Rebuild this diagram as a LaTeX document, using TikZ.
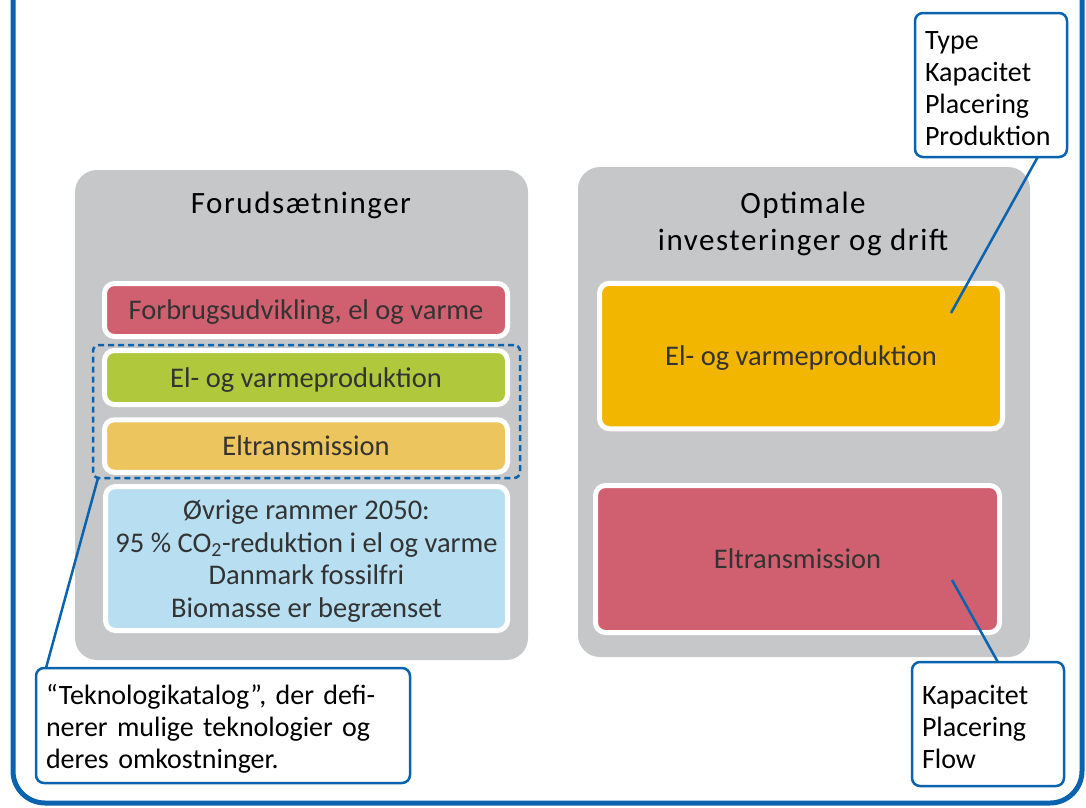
\documentclass[tikz,border=0pt]{standalone}
\usepackage{fontspec}
\setmainfont{Carlito}
\usetikzlibrary{positioning}
\definecolor{frameblue}{HTML}{0A63AE}
\definecolor{panelgrey}{HTML}{C6C7C9}
\definecolor{boxred}{HTML}{D06070}
\definecolor{boxgreen}{HTML}{B0C93C}
\definecolor{boxyellow}{HTML}{EDC55E}
\definecolor{boxblue}{HTML}{B7DFF1}
\definecolor{boxorange}{HTML}{F2B600}
\definecolor{boxtext}{HTML}{333333}
\newcommand{\boxfont}{\fontsize{28.5}{32.5}\selectfont}
\newcommand{\callfont}{\fontsize{28}{32}\selectfont}
\newcommand{\headfont}{\addfontfeature{LetterSpace=5}\fontsize{31}{37}\selectfont}

\begin{document}
\begin{tikzpicture}[x=1pt,y=-1pt,
  panel/.style={fill=panelgrey, rounded corners=22pt, inner sep=0pt, outer sep=0pt},
  box/.style={draw=white, line width=5pt, rounded corners=10pt, inner sep=0pt,
    outer sep=0pt, text=boxtext, font=\boxfont, align=center, text depth=0pt},
  dashbox/.style={draw=frameblue, line width=2.5pt, dash pattern=on 6pt off 4pt,
    rounded corners=6pt, inner sep=0pt, outer sep=0pt},
  callout/.style={draw=frameblue, line width=2.5pt, fill=white, rounded corners=8pt,
    inner ysep=0pt, inner xsep=10pt, outer sep=0pt, align=left, font=\callfont,
    execute at begin node={\rule{0pt}{26pt}}},
  callline/.style={draw=frameblue, line width=2.5pt},
  head/.style={font=\headfont, align=center, inner sep=0pt}]
\clip (0,0) rectangle (1086,807);

% outer frame, cut off at the top
\draw[frameblue, line width=5pt, rounded corners=32pt] (13,-60) rectangle (1082,803);

% the two grey panels
\node[panel, minimum width=453pt, minimum height=490pt] (inputs) at (301.5,415) {};
\node[panel, minimum width=452pt, minimum height=490pt] (results) at (804,412) {};

\node[head] (inputshead) at (301,205) {Forudsætninger};
\node[head] (resultshead) at (803,224) {Optimale\\investeringer og drift};

% assumptions
\node[box, fill=boxred, minimum width=403pt, minimum height=53pt] (demand) at (306,310)
  {Forbrugsudvikling, el og varme};
\node[box, fill=boxgreen, minimum width=403pt, minimum height=54pt] (prodin) at (306,377.5)
  {El- og varmeproduktion};
\node[box, fill=boxyellow, minimum width=403pt, minimum height=52.5pt] (transin) at (306,446)
  {Eltransmission};
\node[box, fill=boxblue, minimum width=402pt, minimum height=144pt] (frames) at (306.5,558.5)
  {Øvrige rammer 2050:\\95 \% CO\textsubscript{2}-reduktion i el og varme\\Danmark fossilfri\\Biomasse er begrænset};
\node[dashbox, minimum width=427pt, minimum height=133pt] (tech) at (306.5,411.5) {};

% results
\node[box, fill=boxorange, minimum width=403pt, minimum height=145.5pt] (prodout) at (801,356)
  {El- og varmeproduktion};
\node[box, fill=boxred, minimum width=404pt, minimum height=147pt] (transout) at (797.5,559)
  {Eltransmission};

% callouts
\node[callout, text width=132pt, minimum height=144pt] (ctype) at (991,85)
  {Type\\Kapacitet\\Placering\\Produktion};
\node[callout, text width=132pt, minimum height=124pt] (cflow) at (988,724)
  {Kapacitet\\Placering\\Flow};
\node[callout, text width=354pt, minimum height=115pt] (ckat) at (223,725.5)
  {“Teknologikatalog”, der defi-\\nerer mulige teknologier og\\deres omkostninger.};

\coordinate (ptype) at (951,313);
\coordinate (pflow) at (952,580);
\draw[callline] (ctype.-57) -- (ptype);
\draw[callline] (cflow.81) -- (pflow);
\draw[callline] (ckat.162) -- ([xshift=5pt]tech.south west);
\end{tikzpicture}
\end{document}
